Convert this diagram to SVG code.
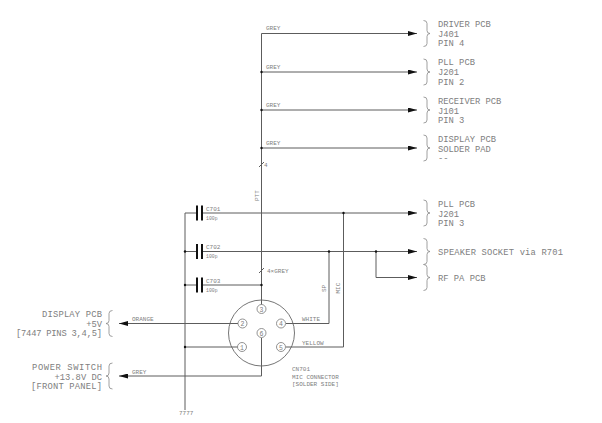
<svg xmlns="http://www.w3.org/2000/svg" width="602" height="423" viewBox="0 0 602 423">
<defs>
<marker id="a" markerUnits="userSpaceOnUse" markerWidth="9" markerHeight="5" refX="9" refY="2.500" orient="auto"><path d="M0 0L9 2.500L0 5Z" fill="#111"/></marker>
<path id="rb" d="M-3.500-13Q0-13 0-10V-3Q0 0 3 0Q0 0 0 3V10Q0 13-3.500 13" fill="none" stroke="#888" stroke-width=".8"/>
<path id="lb" d="M3.500-13Q0-13 0-10V-3Q0 0-3 0Q0 0 0 3V10Q0 13 3.500 13" fill="none" stroke="#888" stroke-width=".8"/>
</defs>
<style>
text{font-family:"Liberation Mono","DejaVu Sans Mono",monospace;fill:#808080}
.l{font-size:8.800px}
.s{font-size:6px}
.t{font-size:4.800px}
.p{font-size:6.500px;text-anchor:middle}
.e{text-anchor:end}
.w{fill:none;stroke:#5c5c5c;stroke-width:1}
.m{marker-end:url(#a)}
.c{fill:#fff;stroke:#777;stroke-width:.8}
.d{fill:#111}
.b{stroke:#111;stroke-width:2}
</style>
<rect width="602" height="423" fill="#fff"/>
<g id="connectors">
<path class="w" d="M261.500 33.500V305"/>
<path class="w m" d="M261.500 33.500H417"/><path class="w m" d="M261.500 72H417"/><path class="w m" d="M261.500 110H417"/><path class="w m" d="M261.500 148H417"/>
<path class="w" d="M185 213V410"/>
<path class="w" d="M185 213H197M202 213H300"/><path class="w m" d="M300 213H417"/>
<path class="w" d="M185 251.500H197M202 251.500H300"/><path class="w m" d="M300 251.500H417"/>
<path class="w" d="M185 285H197M202 285H261.500"/>
<path class="w m" d="M376 251.500V277.500H417"/>
<path class="w" d="M329 251.500V323.500H286"/><path class="w" d="M343.500 213V347H286"/>
<path class="w m" d="M238 323.500H119"/><path class="w" d="M238 347H185"/>
<path class="w" d="M261.500 338V376"/><path class="w m" d="M261.500 376H119"/>
<path class="w" d="M259 273L264 268M259 167L264 162"/>
<g class="d"><circle cx="261.500" cy="72" r="1.200"/><circle cx="261.500" cy="110" r="1.200"/><circle cx="261.500" cy="148" r="1.200"/><circle cx="343.500" cy="213" r="1.200"/><circle cx="185" cy="251.500" r="1.200"/><circle cx="329" cy="251.500" r="1.200"/><circle cx="376" cy="251.500" r="1.200"/><circle cx="185" cy="285" r="1.200"/><circle cx="261.500" cy="285" r="1.200"/><circle cx="185" cy="347" r="1.200"/></g>
<g class="b"><path d="M197 205.500V220.500M202 205.500V220.500M197 244V259M202 244V259M197 277.500V292.500M202 277.500V292.500"/></g>
</g>
<g id="labels">
<text class="s" x="266" y="30">GREY</text><text class="s" x="266" y="69">GREY</text><text class="s" x="266" y="107">GREY</text><text class="s" x="266" y="145">GREY</text>
<text class="s" x="264" y="167">4</text>
<text class="s" transform="rotate(-90 259 201)" x="259" y="201">PTT</text>
<text class="s" x="206" y="211">C701</text><text class="t" x="206" y="220">100p</text>
<text class="s" x="206" y="249">C702</text><text class="t" x="206" y="258">100p</text>
<text class="s" x="206" y="283">C703</text><text class="t" x="206" y="292">100p</text>
<text class="s" x="267" y="273">4×GREY</text>
<text class="s" transform="rotate(-90 326 292)" x="326" y="292">SP</text>
<text class="s" transform="rotate(-90 340 293.500)" x="340" y="293.500">MIC</text>
<text class="s" x="132" y="321">ORANGE</text><text class="s" x="132" y="374">GREY</text>
<text class="s" x="302" y="321">WHITE</text><text class="s" x="302" y="345">YELLOW</text>
<text class="s" x="179" y="415">7777</text>
</g>
<g id="driver-pcb"><use href="#rb" x="427" y="33.500"/><text class="l" x="438" y="27">DRIVER PCB</text><text class="l" x="438" y="37">J401</text><text class="l" x="438" y="46">PIN 4</text></g>
<g id="pll-pcb-2"><use href="#rb" x="427" y="72"/><text class="l" x="438" y="65">PLL PCB</text><text class="l" x="438" y="75">J201</text><text class="l" x="438" y="85">PIN 2</text></g>
<g id="receiver-pcb"><use href="#rb" x="427" y="110"/><text class="l" x="438" y="104">RECEIVER PCB</text><text class="l" x="438" y="114">J101</text><text class="l" x="438" y="123">PIN 3</text></g>
<g id="display-pcb-pad"><use href="#rb" x="427" y="148"/><text class="l" x="438" y="142">DISPLAY PCB</text><text class="l" x="438" y="152">SOLDER PAD</text><text class="l" x="438" y="161">--</text></g>
<g id="pll-pcb-3"><use href="#rb" x="427" y="213"/><text class="l" x="438" y="207">PLL PCB</text><text class="l" x="438" y="217">J201</text><text class="l" x="438" y="226">PIN 3</text></g>
<g id="speaker-socket"><use href="#rb" x="427" y="251.500"/><text class="l" x="438" y="255" textLength="125">SPEAKER SOCKET via R701</text></g>
<g id="rf-pa-pcb"><use href="#rb" x="427" y="277.500"/><text class="l" x="438" y="281">RF PA PCB</text></g>
<g id="display-pcb-5v"><use href="#lb" x="109" y="323.500"/><text class="l" x="42" y="317" textLength="60">DISPLAY PCB</text><text class="l e" x="102" y="327">+5V</text><text class="l" x="16" y="336" textLength="86">[7447 PINS 3,4,5]</text></g>
<g id="power-switch"><use href="#lb" x="109" y="376"/><text class="l" x="32" y="370" textLength="70">POWER SWITCH</text><text class="l e" x="102" y="380">+13.8V DC</text><text class="l" x="31" y="389" textLength="71">[FRONT PANEL]</text></g>
<g id="cn701">
<circle cx="261.500" cy="333" r="33" fill="none" stroke="#666" stroke-width=".9"/>
<circle class="c" cx="261.500" cy="309" r="4.500"/><text class="p" x="261.500" y="311.500">3</text>
<circle class="c" cx="242.500" cy="323.500" r="4.500"/><text class="p" x="242.500" y="326">2</text>
<circle class="c" cx="281" cy="323.500" r="4.500"/><text class="p" x="281" y="326">4</text>
<circle class="c" cx="261.500" cy="333" r="4.500"/><text class="p" x="261.500" y="335.500">6</text>
<circle class="c" cx="242" cy="347" r="4.500"/><text class="p" x="242" y="349.500">1</text>
<circle class="c" cx="281" cy="347" r="4.500"/><text class="p" x="281" y="349.500">5</text>
<text class="s" x="292" y="371">CN701</text><text class="s" x="292" y="378.500">MIC CONNECTOR</text><text class="s" x="292" y="386">[SOLDER SIDE]</text>
</g>
</svg>
